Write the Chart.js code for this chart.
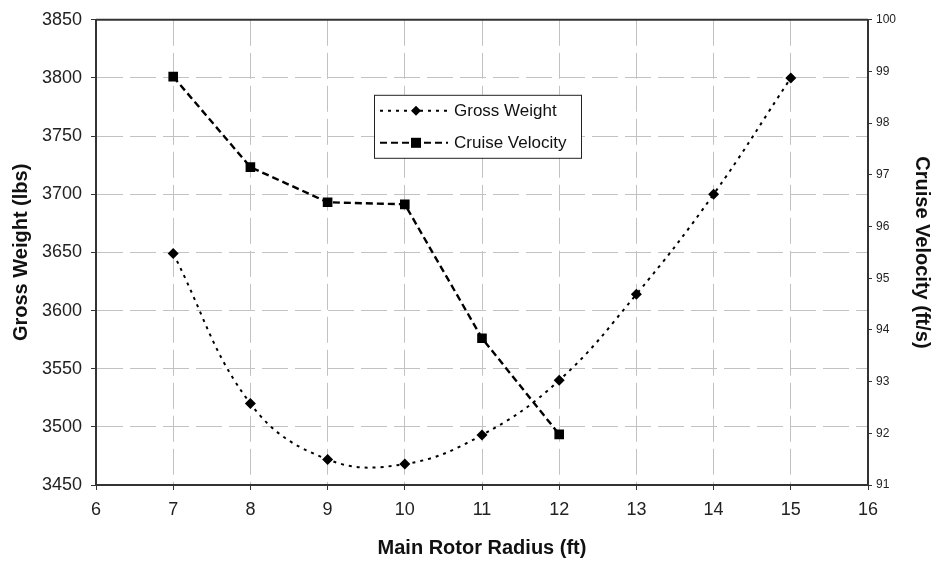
<!DOCTYPE html>
<html>
<head>
<meta charset="utf-8">
<script src="https://cdn.jsdelivr.net/npm/chart.js@4/dist/chart.umd.min.js"></script>
<style>
  html, body { margin: 0; padding: 0; background: #fff; }
  #wrap { width: 936px; height: 563px; }
</style>
</head>
<body>
<div id="wrap"><canvas id="rotorChart" width="936" height="563"></canvas></div>
<script>
// Data
const radii = [7, 8, 9, 10, 11, 12, 13, 14, 15];
const grossWeight = [3649, 3520, 3472, 3468, 3493, 3540, 3614, 3700, 3800];
const cruiseRadii = [7, 8, 9, 10, 11, 12];
const cruiseVelocity = [98.9, 97.15, 96.47, 96.43, 93.84, 91.98];

const FONT = "'Liberation Sans', Arial, sans-serif";
const GRID = '#c2c2c2';
const GW_DASH = [3, 5];
const CV_DASH = [7, 4];

// Legend box drawn inside the plot, like the original spreadsheet chart
const boxLegend = {
  id: 'boxLegend',
  afterDraw(chart) {
    const ctx = chart.ctx;
    const area = chart.chartArea;
    const bx = area.left + 278, by = area.top + 75, bw = 207, bh = 63;
    ctx.save();
    // top border of the plot box
    ctx.strokeStyle = '#333';
    ctx.lineWidth = 2;
    ctx.beginPath();
    ctx.moveTo(area.left, area.top);
    ctx.lineTo(area.right, area.top);
    ctx.stroke();

    ctx.fillStyle = '#fff';
    ctx.fillRect(bx, by, bw, bh);
    ctx.strokeStyle = '#222';
    ctx.lineWidth = 1;
    ctx.strokeRect(bx + 0.5, by + 0.5, bw, bh);

    const rows = [
      { label: 'Gross Weight', dash: GW_DASH, marker: 'diamond', y: by + 16 },
      { label: 'Cruise Velocity', dash: CV_DASH, marker: 'square', y: by + 48 }
    ];
    rows.forEach(r => {
      ctx.strokeStyle = '#000';
      ctx.lineWidth = 2;
      ctx.setLineDash(r.dash);
      ctx.beginPath();
      ctx.moveTo(bx + 6, r.y);
      ctx.lineTo(bx + 74, r.y);
      ctx.stroke();
      ctx.setLineDash([]);
      ctx.fillStyle = '#000';
      const mx = bx + 42;
      if (r.marker === 'diamond') {
        ctx.beginPath();
        ctx.moveTo(mx, r.y - 5); ctx.lineTo(mx + 5, r.y);
        ctx.lineTo(mx, r.y + 5); ctx.lineTo(mx - 5, r.y);
        ctx.closePath(); ctx.fill();
      } else {
        ctx.fillRect(mx - 5, r.y - 5, 10, 10);
      }
      ctx.fillStyle = '#111';
      ctx.font = '17px ' + FONT;
      ctx.textBaseline = 'middle';
      ctx.textAlign = 'left';
      ctx.fillText(r.label, bx + 80, r.y + 1);
    });
    ctx.restore();
  }
};

const plain = v => String(v);

new Chart(document.getElementById('rotorChart'), {
  type: 'line',
  data: {
    datasets: [
      {
        label: 'Gross Weight',
        data: radii.map((r, i) => ({ x: r, y: grossWeight[i] })),
        yAxisID: 'y',
        borderColor: '#000',
        borderWidth: 2,
        borderDash: GW_DASH,
        tension: 0.4,
        pointStyle: 'rectRot',
        pointRadius: 5.5,
        pointBackgroundColor: '#000',
        pointBorderColor: '#000',
        pointBorderWidth: 0
      },
      {
        label: 'Cruise Velocity',
        data: cruiseRadii.map((r, i) => ({ x: r, y: cruiseVelocity[i] })),
        yAxisID: 'y1',
        borderColor: '#000',
        borderWidth: 2.4,
        borderDash: CV_DASH,
        tension: 0,
        pointStyle: 'rect',
        pointRadius: 6.8,
        pointBackgroundColor: '#000',
        pointBorderColor: '#000',
        pointBorderWidth: 0
      }
    ]
  },
  options: {
    responsive: false,
    animation: false,
    layout: { padding: { top: 16, left: 0, right: 0, bottom: 0 } },
    plugins: { legend: { display: false }, tooltip: { enabled: false } },
    scales: {
      x: {
        type: 'linear',
        min: 6, max: 16,
        afterFit: s => { s.height = 78; },
        ticks: { stepSize: 1, color: '#222', padding: 9, callback: plain, font: { family: FONT, size: 18 } },
        grid: { color: GRID, lineWidth: 1, tickLength: 5, tickColor: '#333' },
        border: { color: '#333', width: 2, dash: [26, 7] },
        title: { display: true, text: 'Main Rotor Radius (ft)', color: '#111',
          font: { family: FONT, size: 20, weight: 'bold' }, padding: { bottom: 3 } }
      },
      y: {
        position: 'left',
        min: 3450, max: 3850,
        afterFit: s => { s.width = 96; },
        ticks: { stepSize: 50, color: '#222', padding: 9, callback: plain, font: { family: FONT, size: 18 } },
        grid: { color: GRID, lineWidth: 1, tickLength: 5, tickColor: '#333' },
        border: { color: '#333', width: 2, dash: [26, 7] },
        title: { display: true, text: 'Gross Weight (lbs)', color: '#111',
          font: { family: FONT, size: 20, weight: 'bold' }, padding: { top: 9 } }
      },
      y1: {
        position: 'right',
        min: 91, max: 100,
        afterFit: s => { s.width = 68; },
        ticks: { stepSize: 1, color: '#222', padding: 4, callback: plain, font: { family: FONT, size: 12 } },
        grid: { drawOnChartArea: false, tickLength: 4, tickColor: '#333' },
        border: { color: '#333', width: 2 },
        title: { display: true, text: 'Cruise Velocity (ft/s)', color: '#111',
          font: { family: FONT, size: 20, weight: 'bold' }, padding: { top: 2 } }
      }
    }
  },
  plugins: [boxLegend]
});
</script>
</body>
</html>
